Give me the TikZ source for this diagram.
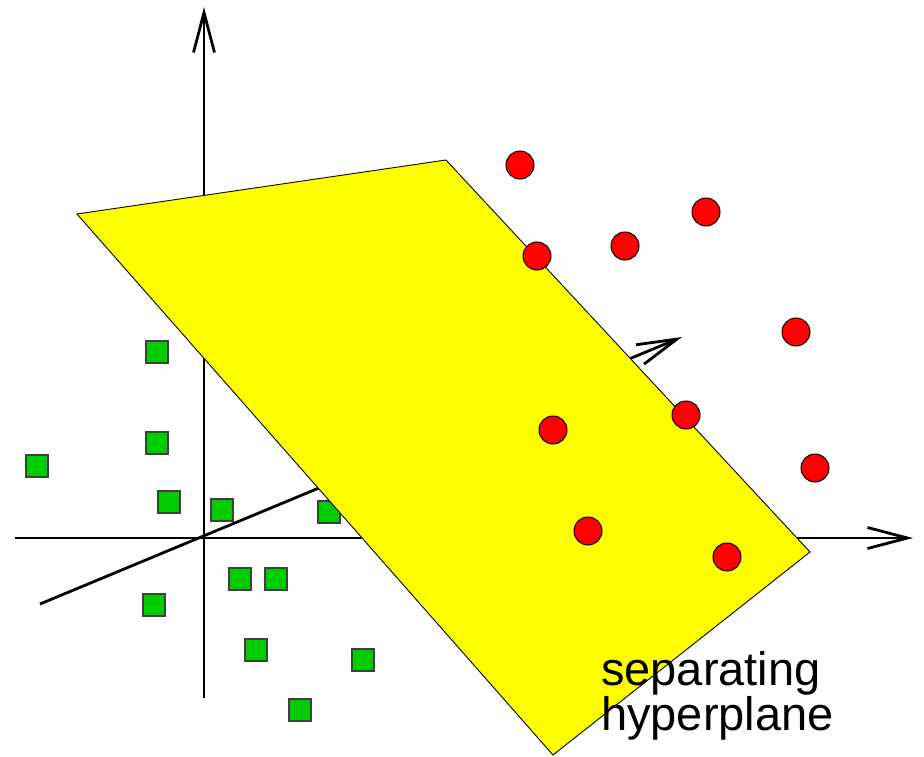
\documentclass[tikz,border=0pt]{standalone}
\usepackage{fontspec}
\setmainfont{Liberation Sans}
\usetikzlibrary{arrows.meta}
\definecolor{sqgreen}{RGB}{0,204,0}
\definecolor{ptred}{RGB}{255,0,0}
\definecolor{planeyellow}{RGB}{255,255,0}
\tikzset{
  axis/.style={line width=2.8pt, -{Straight Barb[length=40pt,width=21pt,line width=2.8pt]}},
  sq/.style={draw=black!75, line width=1.3pt, fill=sqgreen, minimum size=22pt, inner sep=0pt, outer sep=0pt, rectangle},
  pt/.style={draw=black, line width=1pt, fill=ptred, circle, minimum size=28pt, inner sep=0pt},
  plane/.style={draw=black, line width=0.9pt, fill=planeyellow, line join=miter},
  lbl/.style={font=\fontsize{47}{43}\selectfont, align=left, inner sep=0pt, anchor=base west}
}
\begin{document}
\begin{tikzpicture}[x=1pt,y=-1pt]
\useasboundingbox (0,0) rectangle (924,757);
% axes
\coordinate (o) at (204,538);
\coordinate (yb) at (204,698);
\coordinate (yt) at (204,7);
\coordinate (xl) at (15,538);
\coordinate (xr) at (913,538);
\coordinate (zb) at (40,604);
\coordinate (zt) at (682,337);
\draw[axis] (yb) -- (yt);
\draw[axis] (xl) -- (xr);
\draw[axis] (zb) -- (zt);
% square behind plane
\node[sq] (s6) at (329,512) {};
% plane
\coordinate (p1) at (77,214);
\coordinate (p2) at (446,160);
\coordinate (p3) at (810,552);
\coordinate (p4) at (553,755);
\draw[plane] (p1) -- (p2) -- (p3) -- (p4) -- cycle;
% squares
\node[sq] (s1) at (157,352) {};
\node[sq] (s2) at (157,443) {};
\node[sq] (s3) at (37,466) {};
\node[sq] (s4) at (169,502) {};
\node[sq] (s5) at (222,510) {};
\node[sq] (s7) at (240,579) {};
\node[sq] (s8) at (276,579) {};
\node[sq] (s9) at (154,605) {};
\node[sq] (s10) at (256,650) {};
\node[sq] (s11) at (363,660) {};
\node[sq] (s12) at (300,710) {};
% circles
\node[pt] (c1) at (520,165) {};
\node[pt] (c2) at (537,256) {};
\node[pt] (c3) at (625,246) {};
\node[pt] (c4) at (706,212) {};
\node[pt] (c5) at (796,332) {};
\node[pt] (c6) at (553,430) {};
\node[pt] (c7) at (686,415) {};
\node[pt] (c8) at (815,468) {};
\node[pt] (c9) at (588,531) {};
\node[pt] (c10) at (727,557) {};
% label
\node[lbl] (t) at (601,730) {separating\\hyperplane};
\end{tikzpicture}
\end{document}
